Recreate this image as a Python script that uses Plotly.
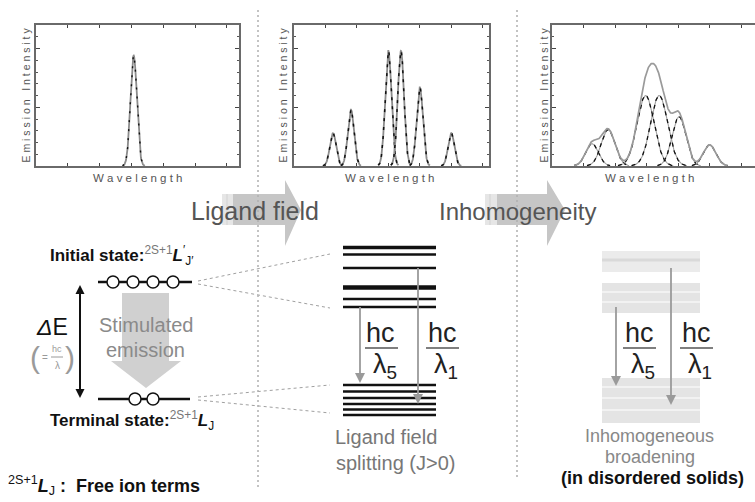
import numpy as np
import plotly.graph_objects as go

W, H = 755, 502
FONT = "Liberation Sans, Arial, Helvetica, sans-serif"

# ---------------- spectra (wavelength in arbitrary units, intensity 0..1.2)
WL_TICKS = [1, 2, 3, 4, 5, 6]
INT_MAJOR = [0, 0.5, 1.0]
INT_MINOR = [0.1, 0.2, 0.3, 0.4, 0.6, 0.7, 0.8, 0.9, 1.1]

# free ion: one sharp emission line
free_center = [3.07]
free_height = [0.94]
free_sigma = [0.10]

# ligand-field split (Stark) components
lf_center = [1.24, 1.81, 3.00, 3.40, 4.00, 5.00]
lf_height = [0.28, 0.48, 0.98, 0.98, 0.67, 0.28]
lf_sigma = [0.10, 0.10, 0.10, 0.10, 0.10, 0.10]

# inhomogeneously broadened components
ih_center = [1.27, 1.78, 2.97, 3.40, 4.03, 5.00]
ih_height = [0.19, 0.31, 0.60, 0.60, 0.42, 0.18]
ih_sigma = [0.20, 0.22, 0.27, 0.27, 0.22, 0.20]

# energy sub-levels of the split manifolds (y in drawing units)
upper_levels = [247.5, 254.5, 268, 287.5, 299, 307]
upper_widths = [3.5, 2.5, 2.5, 4.5, 2.5, 2.5]
lower_levels = [385, 391.5, 398, 404, 409.5, 415]


def profile(x, c, h, s):
    return h * np.exp(-0.5 * ((x - c) / s) ** 2)


def X(px):
    return px / W


def Y(py):
    return 1 - py / H


fig = go.Figure()

# ---------------- spectrum panels
panels = [
    # (suffix, left, right, top, bottom, xmax, right frame)
    ("", 36, 239, 25, 166, 6.38, True),
    ("2", 294, 489, 25, 166, 6.2, True),
    ("3", 552, 755, 25, 166, 6.44, False),
]

AX = dict(showline=True, linecolor="#6a6a6a", linewidth=1.6, ticks="inside",
          tickcolor="#444", tickwidth=1.2, showticklabels=False, showgrid=False,
          zeroline=False, fixedrange=True)

layout_axes = {}
for sfx, l, r, t, b, xmax, right in panels:
    layout_axes["xaxis" + sfx] = dict(AX, domain=[X(l), X(r)], range=[0, xmax],
                                      anchor="y" + sfx, tickvals=WL_TICKS,
                                      ticklen=3, mirror="ticks")
    layout_axes["yaxis" + sfx] = dict(AX, domain=[Y(b), Y(t)], range=[0, 1.2],
                                      anchor="x" + sfx, tickvals=INT_MAJOR,
                                      ticklen=4,
                                      mirror="ticks" if right else False,
                                      minor=dict(tickvals=INT_MINOR, ticks="inside",
                                                 ticklen=2, tickcolor="#555"))


def add_line_trace(x, y, sfx, color, width, dash=None):
    fig.add_trace(go.Scatter(x=x, y=y, mode="lines", xaxis="x" + sfx, yaxis="y" + sfx,
                             line=dict(color=color, width=width, dash=dash),
                             hoverinfo="skip", showlegend=False))


# panel 1: free ion line
for c, h, s in zip(free_center, free_height, free_sigma):
    xs = np.linspace(c - 0.35, c + 0.35, 120)
    add_line_trace(xs, profile(xs, c, h, s), "", "#8c8c8c", 1.8)
    add_line_trace(xs, profile(xs, c, h, s), "", "#111", 1.4, "2px,7px")

# panel 2: ligand field components
for c, h, s in zip(lf_center, lf_height, lf_sigma):
    xs = np.linspace(c - 0.32, c + 0.32, 120)
    add_line_trace(xs, profile(xs, c, h, s), "2", "#8c8c8c", 1.8)
    add_line_trace(xs, profile(xs, c, h, s), "2", "#111", 1.5, "3px,6px")

# panel 3: broadened components and their envelope
xs3 = np.linspace(0.3, 6.3, 600)
envelope = np.zeros_like(xs3)
for c, h, s in zip(ih_center, ih_height, ih_sigma):
    comp = profile(xs3, c, h, s)
    envelope += comp
    mask = comp > 0.003
    add_line_trace(xs3[mask], comp[mask], "3", "#a0a0a0", 1.1)
    add_line_trace(xs3[mask], comp[mask], "3", "#111", 1.3, "4px,4px")
mask = envelope > 0.003
add_line_trace(xs3[mask], envelope[mask], "3", "#9a9a9a", 1.7)

# ---------------- diagram shapes (drawing units = pixels, y downwards)
shapes = []
annots = []


def line(x0, y0, x1, y1, color, width, dash=None):
    shapes.append(dict(type="line", xref="paper", yref="paper",
                       x0=X(x0), y0=Y(y0), x1=X(x1), y1=Y(y1),
                       line=dict(color=color, width=width, dash=dash)))


def rect(x0, y0, x1, y1, fill):
    shapes.append(dict(type="rect", xref="paper", yref="paper",
                       x0=X(x0), y0=Y(y0), x1=X(x1), y1=Y(y1),
                       fillcolor=fill, line=dict(width=0)))


def poly(points, fill):
    path = "M " + " L ".join(f"{X(px):.5f},{Y(py):.5f}" for px, py in points) + " Z"
    shapes.append(dict(type="path", xref="paper", yref="paper", path=path,
                       fillcolor=fill, line=dict(width=0)))


def circle(cx, cy, r):
    shapes.append(dict(type="circle", xref="paper", yref="paper",
                       x0=X(cx - r), x1=X(cx + r), y0=Y(cy + r), y1=Y(cy - r),
                       fillcolor="white", line=dict(color="#111", width=1.5)))


def down_arrow(x, y0, y1, color, width=1.8, hw=5, hl=10):
    line(x, y0, x, y1 - hl + 1, color, width)
    poly([(x - hw, y1 - hl), (x + hw, y1 - hl), (x, y1)], color)


def text(x, y, s, size, color="#111", xanchor="center", yanchor="middle", angle=0):
    annots.append(dict(x=X(x), y=Y(y), xref="paper", yref="paper", text=s,
                       showarrow=False, xanchor=xanchor, yanchor=yanchor,
                       textangle=angle, font=dict(family=FONT, size=size, color=color)))


# axis titles of the three panels
for (sfx, l, r, t, b, xmax, right), ytx in zip(panels, [25, 282, 543]):
    text(ytx, (t + b) / 2, "E m i s s i o n   I n t e n s i t y", 10.5, "#555", angle=-90)
for xc in [137, 389, 649]:
    text(xc, 178, "W a v e l e n g t h", 11.5, "#555")

# horizontal block arrows between the panels
ARROW_GRAY = "#c6c6c6"
for x0, xh, xt, strip in [(233, 285, 301, 222), (497, 547, 565, 485)]:
    rect(strip, 194, x0, 225, "#e6e6e6")
    line(strip + 5, 194, strip + 5, 225, "#d2d2d2", 1)
    poly([(x0, 194), (xh, 194), (xh, 180), (xt, 210), (xh, 246), (xh, 225), (x0, 225)],
         ARROW_GRAY)
text(255, 211, "Ligand field", 25, "#555")
text(517, 211, "Inhomogeneity", 24, "#555")

# free-ion levels with stimulated emission
poly([(122, 293), (169, 293), (169, 361), (181, 361), (146, 388), (111, 361), (122, 361)],
     "#d0d0d0")
line(98, 282, 192, 282, "#111", 2.5)
for cx in [113, 133, 153, 173]:
    circle(cx, 282, 6)
line(98, 399, 190, 399, "#111", 2.5)
for cx in [135, 153]:
    circle(cx, 399, 6)

# energy gap double arrow
line(80, 293, 80, 390, "#111", 2)
poly([(75.5, 294), (84.5, 294), (80, 285)], "#111")
poly([(75.5, 389), (84.5, 389), (80, 398)], "#111")

text(146, 325, "Stimulated", 20, "#8a8a8a")
text(145, 350, "emission", 20, "#8a8a8a")
text(52, 327, "<i>Δ</i>E", 23, "#111")
text(35, 357, "(", 30, "#9a9a9a")
text(70, 357, ")", 30, "#9a9a9a")
text(45, 357, "=", 10, "#9a9a9a")
text(57, 349, "hc", 9, "#9a9a9a")
line(51, 357, 63, 357, "#9a9a9a", 1)
text(57, 365, "λ", 10, "#9a9a9a")

text(48, 255, "<b>Initial state:</b><span style='color:#777'><sup>2S+1</sup></span>"
     "<b><i>L</i></b><sup>′</sup><sub>J′</sub>", 17, "#111", xanchor="left")
text(48, 420, "<b>Terminal state:</b><span style='color:#777'><sup>2S+1</sup></span>"
     "<b><i>L</i></b><sub>J</sub>", 17, "#111", xanchor="left")
text(6, 485, "<sup>2S+1</sup><b><i>L</i></b><sub>J</sub><b> :  Free ion terms</b>",
     18, "#111", xanchor="left")

# dashed connectors from free-ion levels to split manifolds
for (x0, y0, x1, y1) in [(198, 281, 330, 254), (198, 284, 330, 308),
                         (198, 397, 330, 385), (198, 400, 330, 413)]:
    line(x0, y0, x1, y1, "#a0a0a0", 1, "3px,3px")

# ligand-field split manifolds
for yv, wv in zip(upper_levels, upper_widths):
    line(343, yv, 436, yv, "#111", wv)
for yv in lower_levels:
    line(343, yv, 436, yv, "#111", 2.5)
down_arrow(360, 307, 383, "#9a9a9a")
down_arrow(418, 268, 404, "#9a9a9a")

# inhomogeneously broadened bands
rect(602, 251, 700, 272, "#ebebeb")
line(602, 260, 700, 260, "#d9d9d9", 3)
rect(602, 283, 700, 313, "#e4e4e4")
for yv in [292, 302]:
    line(602, yv, 700, yv, "#f2f2f2", 2)
rect(602, 378, 700, 423, "#e4e4e4")
for yv in [387, 398, 410]:
    line(602, yv, 700, yv, "#f2f2f2", 2)
down_arrow(616, 307, 386, "#9a9a9a")
down_arrow(671, 268, 405, "#9a9a9a")

# transition energy labels
for xc, sub in [(381, "5"), (442, "1"), (639, "5"), (696, "1")]:
    text(xc, 333, "hc", 27, "#222")
    line(xc - 16, 348, xc + 17, 348, "#555", 1.5)
    text(xc + 4, 366, f"λ<sub>{sub}</sub>", 27, "#222")

text(386, 437, "Ligand field", 20, "#777")
text(396, 463, "splitting (J>0)", 20, "#777")
text(649, 436, "Inhomogeneous", 18, "#888")
text(650, 457, "broadening", 18, "#888")
text(652, 478, "<b>(in disordered solids)</b>", 18, "#111")

# dotted separators
for xv, yb in [(258, 488), (517, 480)]:
    line(xv, 10, xv, yb, "#b0b0b0", 1.5, "2px,3px")

fig.update_layout(
    width=W, height=H, autosize=False,
    margin=dict(l=0, r=0, t=0, b=0),
    paper_bgcolor="white", plot_bgcolor="rgba(0,0,0,0)",
    shapes=shapes, annotations=annots,
    font=dict(family=FONT),
    **layout_axes,
)

fig.write_html("out.html")
